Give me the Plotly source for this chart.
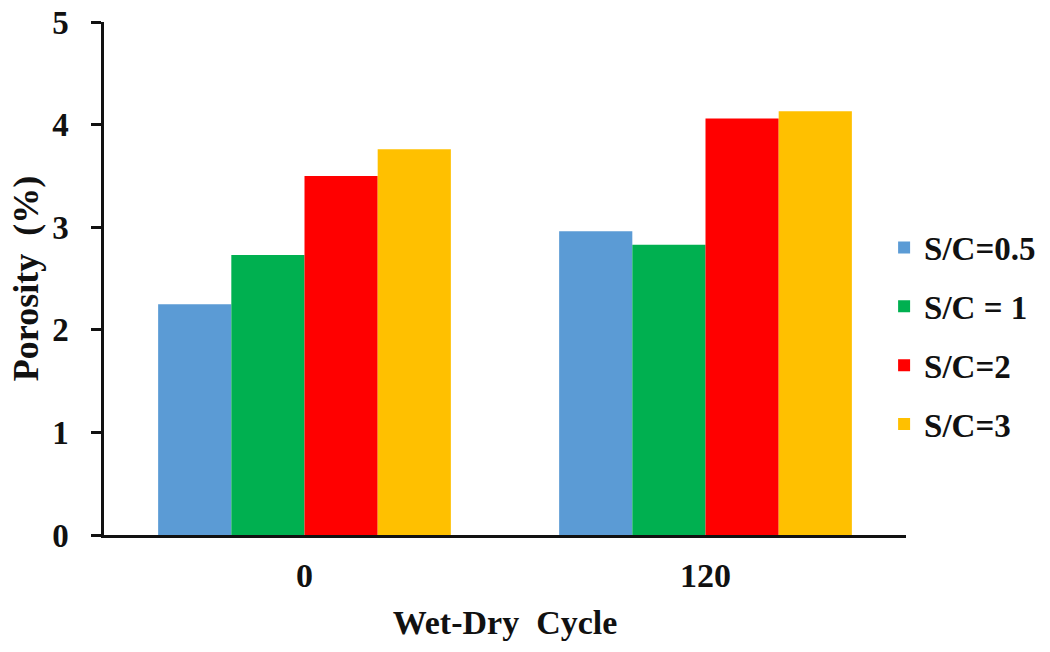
import plotly.graph_objects as go

# Porosity (%) for each sand/cement ratio after wet-dry cycling
cycles = ["0", "120"]
series_names = ["S/C=0.5", "S/C = 1", "S/C=2", "S/C=3"]
porosity_sc05 = [2.25, 2.96]
porosity_sc1 = [2.73, 2.83]
porosity_sc2 = [3.50, 4.06]
porosity_sc3 = [3.76, 4.13]
y_ticks = [0, 1, 2, 3, 4, 5]

colors = ["#5B9BD5", "#00B050", "#FF0000", "#FFC000"]
values = [porosity_sc05, porosity_sc1, porosity_sc2, porosity_sc3]

FONT = "Liberation Serif"
BLACK = "#111111"

fig = go.Figure()
for name, vals, col in zip(series_names, values, colors):
    fig.add_trace(go.Bar(
        x=cycles, y=vals, name=name, legendgroup=name,
        marker=dict(color=col, line=dict(width=0)),
    ))

fig.update_layout(
    width=1050, height=652,
    margin=dict(l=104, r=144, t=22, b=117, autoexpand=False),
    paper_bgcolor="white", plot_bgcolor="white",
    barmode="group", bargap=0.27, bargroupgap=0,
    font=dict(family=FONT, color=BLACK),
    legend=dict(
        xref="container", x=0.842, xanchor="left",
        y=0.388, yanchor="middle",
        font=dict(family=FONT, size=33, color=BLACK, weight="bold"),
        traceorder="grouped", tracegroupgap=13,
        itemwidth=30,
    ),
    xaxis=dict(
        showline=True, linecolor=BLACK, linewidth=2.5,
        ticks="", showgrid=False, automargin=False,
        tickfont=dict(family=FONT, size=34, color=BLACK, weight="bold"),
        ticklabelstandoff=8,
        title=dict(text="Wet-Dry  Cycle",
                   font=dict(family=FONT, size=34, color=BLACK, weight="bold"),
                   standoff=18),
    ),
    yaxis=dict(
        range=[0, 5], tickvals=y_ticks,
        showline=True, linecolor=BLACK, linewidth=2.5,
        ticks="outside", ticklen=10, tickwidth=2.5, tickcolor=BLACK,
        showgrid=False, zeroline=False, automargin=False,
        tickfont=dict(family=FONT, size=33, color=BLACK, weight="bold"),
        ticklabelstandoff=16,
        title=dict(text="Porosity  (%)",
                   font=dict(family=FONT, size=36, color=BLACK, weight="bold"),
                   standoff=3),
    ),
)

fig.write_html("out.html")
